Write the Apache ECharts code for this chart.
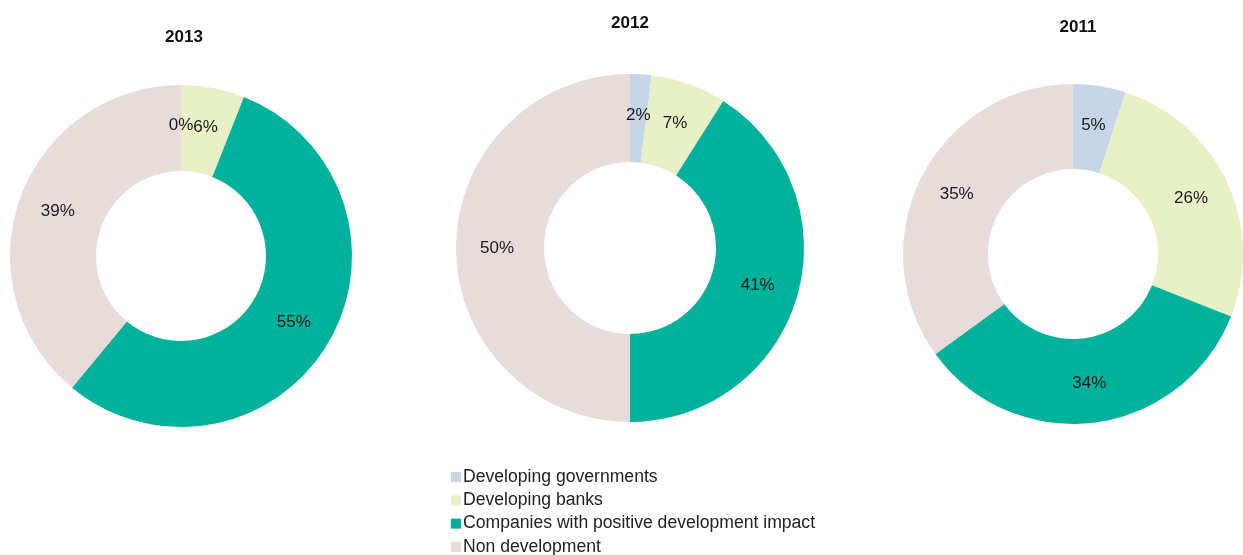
<!DOCTYPE html>
<html>
<head>
<meta charset="utf-8">
<script src="https://cdn.jsdelivr.net/npm/echarts@6/dist/echarts.min.js"></script>
<style>html,body{margin:0;padding:0;background:#fff;}#c{width:1243px;height:555px;}</style>
</head>
<body>
<div id="c"></div>
<script>
const categories = ['Developing governments', 'Developing banks', 'Companies with positive development impact', 'Non development'];
const years = ['2013', '2012', '2011'];
const values2013 = [0, 6, 55, 39];
const values2012 = [2, 7, 41, 50];
const values2011 = [5, 26, 34, 35];
const colors = ['#c6d5e8', '#e8f0c6', '#00b19b', '#e8dcda'];

const allValues = [values2013, values2012, values2011];
const centers = [[181, 256], [630, 248], [1073, 254]];
const radii = [[85, 171], [86, 174], [85, 170]];
const titlePos = [[184, 29], [630, 15], [1078, 19]];

const chart = echarts.init(document.getElementById('c'));
const fontFamily = 'Liberation Sans, Arial, Helvetica, sans-serif';

chart.setOption({
  animation: false,
  color: colors,
  textStyle: { fontFamily: fontFamily },
  title: years.map((y, i) => ({
    text: y,
    left: titlePos[i][0],
    top: titlePos[i][1],
    textAlign: 'center',
    padding: 0,
    textStyle: { fontSize: 17, fontWeight: 'bold', color: '#111', fontFamily: fontFamily }
  })),
  legend: {
    data: categories,
    orient: 'vertical',
    left: 446,
    top: 463,
    height: 120,
    icon: 'rect',
    itemWidth: 10,
    itemHeight: 10,
    itemGap: 5.3,
    textStyle: { fontSize: 17.6, color: '#222', lineHeight: 18, fontFamily: fontFamily, padding: [0, 0, 0, -3] }
  },
  series: allValues.map((vals, i) => ({
    type: 'pie',
    name: years[i],
    center: centers[i],
    radius: radii[i],
    startAngle: 90,
    clockwise: true,
    avoidLabelOverlap: false,
    stillShowZeroSum: true,
    emphasis: { disabled: true },
    itemStyle: { borderWidth: 0 },
    label: {
      show: true,
      position: 'inside',
      formatter: '{c}%',
      fontSize: 17,
      color: '#1a1a1a',
      fontFamily: fontFamily,
      padding: [5, 0, 0, 0]
    },
    labelLine: { show: false },
    data: categories.map((c, j) => ({ name: c, value: vals[j] }))
  }))
});
</script>
</body>
</html>
